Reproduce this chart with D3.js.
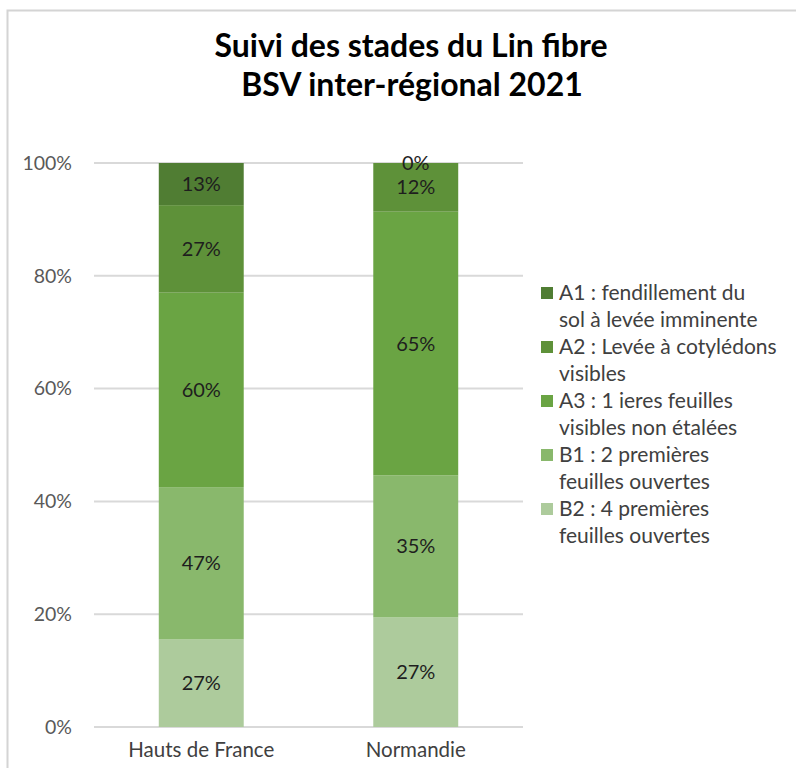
<!DOCTYPE html>
<html>
<head>
<meta charset="utf-8">
<script src="https://cdn.jsdelivr.net/npm/d3@7"></script>
<style>
  body { margin: 0; background: #fff; }
  svg { display: block; font-family: Lato, "Open Sans", sans-serif; }
</style>
</head>
<body>
<div id="chart"></div>
<script>
// categories and series (raw values, shown stacked to 100%)
var regions = ["Hauts de France", "Normandie"];
var stages = ["B2", "B1", "A3", "A2", "A1"];
var stageLabels = {
    A1: ["A1 : fendillement du", "sol à levée imminente"],
    A2: ["A2 : Levée à cotylédons", "visibles"],
    A3: ["A3 : 1 ieres feuilles", "visibles non étalées"],
    B1: ["B1 : 2 premières", "feuilles ouvertes"],
    B2: ["B2 : 4 premières", "feuilles ouvertes"]
};
var valuesB2 = [27, 27];
var valuesB1 = [47, 35];
var valuesA3 = [60, 65];
var valuesA2 = [27, 12];
var valuesA1 = [13, 0];
var yTicks = [0, 0.2, 0.4, 0.6, 0.8, 1];

var colors = { A1: "#507d33", A2: "#5e9139", A3: "#6aa443", B1: "#89b86c", B2: "#adcb9c" };

var series = { B2: valuesB2, B1: valuesB1, A3: valuesA3, A2: valuesA2, A1: valuesA1 };
var rows = regions.map(function (r, i) {
    var o = { region: r };
    stages.forEach(function (s) { o[s] = series[s][i]; });
    return o;
});

var width = 796, height = 768;
var margin = { left: 94, right: 273, top: 163, bottom: 41 };

var svg = d3.select("#chart").append("svg")
    .attr("width", width)
    .attr("height", height);

// chart frame (cropped screenshot edge)
svg.append("rect")
    .attr("x", 7.5).attr("y", 10.5)
    .attr("width", width + 10).attr("height", height + 10)
    .attr("fill", "none")
    .attr("stroke", "#d4d4d4")
    .attr("stroke-width", 2);

// title
svg.append("text")
    .attr("x", 411).attr("y", 57)
    .attr("text-anchor", "middle")
    .style("font-size", "32px").style("font-weight", "bold").attr("fill", "#000")
    .text("Suivi des stades du Lin fibre");
svg.append("text")
    .attr("x", 412).attr("y", 96)
    .attr("text-anchor", "middle")
    .style("font-size", "32px").style("font-weight", "bold").attr("fill", "#000")
    .text("BSV inter-régional 2021");

var x = d3.scaleBand()
    .domain(regions)
    .range([margin.left, width - margin.right])
    .paddingInner(0.604)
    .paddingOuter(0.302);

var y = d3.scaleLinear()
    .domain([0, 1])
    .range([height - margin.bottom, margin.top]);

// gridlines
svg.append("g")
    .selectAll("line")
    .data(yTicks)
    .enter().append("line")
    .attr("x1", margin.left).attr("x2", width - margin.right)
    .attr("y1", function (d) { return y(d); })
    .attr("y2", function (d) { return y(d); })
    .attr("stroke", "#d9d9d9")
    .attr("stroke-width", 2);

// y axis labels
var yAxis = d3.axisLeft(y).tickValues(yTicks).tickFormat(d3.format(".0%")).tickSize(0).tickPadding(22);
svg.append("g")
    .attr("transform", "translate(" + margin.left + ",0)")
    .call(yAxis)
    .call(function (g) { g.select(".domain").remove(); })
    .selectAll("text")
    .style("font-size", "19.5px")
    .style("font-family", "Lato, 'Open Sans', sans-serif")
    .attr("fill", "#595959");

// stacked bars
var stack = d3.stack().keys(stages).offset(d3.stackOffsetExpand);
var layers = stack(rows);

var groups = svg.append("g")
    .selectAll("g")
    .data(layers)
    .enter().append("g")
    .attr("fill", function (d) { return colors[d.key]; });

groups.selectAll("rect")
    .data(function (d) { return d; })
    .enter().append("rect")
    .attr("x", function (d) { return x(d.data.region); })
    .attr("width", x.bandwidth())
    .attr("y", function (d) { return y(d[1]); })
    .attr("height", function (d) { return y(d[0]) - y(d[1]); });

// data labels (raw values)
groups.selectAll("text")
    .data(function (d) { return d.map(function (p) { p.key = d.key; return p; }); })
    .enter().append("text")
    .attr("x", function (d) { return x(d.data.region) + x.bandwidth() / 2; })
    .attr("y", function (d) { return (y(d[0]) + y(d[1])) / 2; })
    .attr("dy", "0.35em")
    .attr("text-anchor", "middle")
    .style("font-size", "20px")
    .attr("fill", "#1e1e1e")
    .text(function (d) { return d.data[d.key] + "%"; });

// x axis labels
var xAxis = d3.axisBottom(x).tickSize(0).tickPadding(15);
svg.append("g")
    .attr("transform", "translate(0," + y(0) + ")")
    .call(xAxis)
    .call(function (g) { g.select(".domain").remove(); })
    .selectAll("text")
    .style("font-size", "20.5px")
    .style("font-family", "Lato, 'Open Sans', sans-serif")
    .attr("fill", "#404040");

// legend
var legendOrder = ["A1", "A2", "A3", "B1", "B2"];
var legend = svg.append("g").attr("transform", "translate(541,293)");
legendOrder.forEach(function (k, i) {
    var g = legend.append("g").attr("transform", "translate(0," + (i * 54) + ")");
    g.append("rect")
        .attr("x", 0).attr("y", -6)
        .attr("width", 12).attr("height", 12)
        .attr("fill", colors[k]);
    stageLabels[k].forEach(function (line, j) {
        g.append("text")
            .attr("x", 18).attr("y", j * 27)
            .attr("dy", "0.35em")
            .style("font-size", "21px")
            .attr("fill", "#404040")
            .text(line);
    });
});
</script>
</body>
</html>
